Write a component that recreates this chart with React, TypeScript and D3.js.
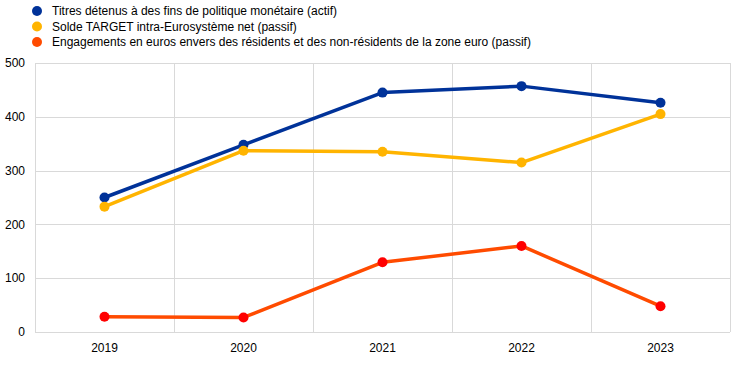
import React, { useEffect, useRef } from 'react';
import * as d3 from 'd3';

const years = ['2019', '2020', '2021', '2022', '2023'];
const titres = [250, 348, 445, 457, 426];
const target = [233, 337, 335, 315, 405];
const engagements = [28.5, 27, 129.5, 160, 48];
const yTicks = [0, 100, 200, 300, 400, 500];

const seriesNames = [
  'Titres détenus à des fins de politique monétaire (actif)',
  'Solde TARGET intra-Eurosystème net (passif)',
  'Engagements en euros envers des résidents et des non-résidents de la zone euro (passif)',
];

const App = () => {
  const ref = useRef<SVGSVGElement>(null);

  useEffect(() => {
    const width = 744;
    const height = 365;
    const marginTop = 63;
    const marginRight = 14;
    const marginBottom = 33;
    const marginLeft = 35;

    const series = [
      { name: seriesNames[0], values: titres, line: '#003299', dot: '#003299', legend: '#003299' },
      { name: seriesNames[1], values: target, line: '#FFB400', dot: '#FFB400', legend: '#FFB400' },
      { name: seriesNames[2], values: engagements, line: '#FF4B00', dot: '#FF0000', legend: '#FF4B00' },
    ];

    const x = d3.scaleBand().domain(years).range([marginLeft, width - marginRight]);
    const y = d3.scaleLinear().domain([0, 500]).range([height - marginBottom, marginTop]);

    const svg = d3.select(ref.current);
    svg.selectAll('*').remove();
    svg.attr('viewBox', [0, 0, width, height])
      .attr('width', width)
      .attr('height', height)
      .attr('font-family', 'Arial, "Liberation Sans", sans-serif');

    // grid
    const grid = svg.append('g').attr('stroke', '#d9d9d9').attr('stroke-width', 1);
    grid.selectAll('line.h')
      .data(yTicks)
      .join('line')
      .attr('x1', marginLeft)
      .attr('x2', width - marginRight)
      .attr('y1', d => Math.round(y(d)) + 0.5)
      .attr('y2', d => Math.round(y(d)) + 0.5);
    const bounds = [...years.map(d => x(d)!), width - marginRight];
    grid.selectAll('line.v')
      .data(bounds)
      .join('line')
      .attr('x1', d => Math.round(d) + 0.5)
      .attr('x2', d => Math.round(d) + 0.5)
      .attr('y1', marginTop)
      .attr('y2', height - marginBottom);

    // y labels
    svg.append('g')
      .selectAll('text')
      .data(yTicks)
      .join('text')
      .attr('x', 25)
      .attr('y', d => y(d))
      .attr('dy', '0.35em')
      .attr('text-anchor', 'end')
      .attr('font-size', 12)
      .attr('fill', '#000')
      .text(d => d);

    // x labels
    svg.append('g')
      .selectAll('text')
      .data(years)
      .join('text')
      .attr('x', d => x(d)! + x.bandwidth() / 2)
      .attr('y', height - marginBottom + 20)
      .attr('text-anchor', 'middle')
      .attr('font-size', 12)
      .attr('fill', '#000')
      .text(d => d);

    const line = d3.line<number>()
      .x((_, i) => x(years[i])! + x.bandwidth() / 2)
      .y(d => y(d));

    for (const s of series) {
      svg.append('path')
        .attr('d', line(s.values))
        .attr('fill', 'none')
        .attr('stroke', s.line)
        .attr('stroke-width', 3.5)
        .attr('stroke-linejoin', 'round');
      svg.append('g')
        .selectAll('circle')
        .data(s.values)
        .join('circle')
        .attr('cx', (_, i) => x(years[i])! + x.bandwidth() / 2)
        .attr('cy', d => y(d))
        .attr('r', 5)
        .attr('fill', s.dot);
    }

    // legend
    const legend = svg.append('g');
    series.forEach((s, i) => {
      const ly = 11 + i * 15.5;
      legend.append('circle')
        .attr('cx', 37)
        .attr('cy', ly)
        .attr('r', 5)
        .attr('fill', s.legend);
      legend.append('text')
        .attr('x', 52)
        .attr('y', ly)
        .attr('dy', '0.35em')
        .attr('font-size', 12)
        .attr('fill', '#000')
        .text(s.name);
    });
  }, []);

  return (
    <div style={{ position: 'absolute', left: 0, top: 0 }}>
      <svg ref={ref} style={{ display: 'block' }} />
    </div>
  );
};

export default App;
